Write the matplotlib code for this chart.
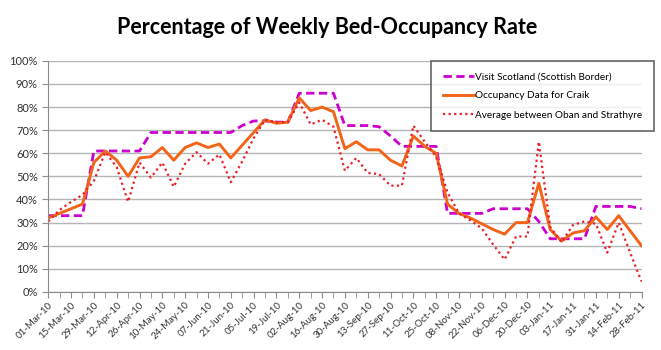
import matplotlib
matplotlib.use("Agg")
import matplotlib.pyplot as plt
from matplotlib.ticker import MultipleLocator, PercentFormatter, FixedLocator

plt.rcParams["font.family"] = ["Lato", "DejaVu Sans"]

# weekly dates, 01-Mar-10 .. 28-Feb-11 (53 weeks), labels every 2 weeks
week_labels = [
    "01-Mar-10", "15-Mar-10", "29-Mar-10", "12-Apr-10", "26-Apr-10", "10-May-10",
    "24-May-10", "07-Jun-10", "21-Jun-10", "05-Jul-10", "19-Jul-10", "02-Aug-10",
    "16-Aug-10", "30-Aug-10", "13-Sep-10", "27-Sep-10", "11-Oct-10", "25-Oct-10",
    "08-Nov-10", "22-Nov-10", "06-Dec-10", "20-Dec-10", "03-Jan-11", "17-Jan-11",
    "31-Jan-11", "14-Feb-11", "28-Feb-11",
]

visit_scotland = [
    33, 33, 33, 33, 61, 61, 61, 61, 61, 69,
    69, 69, 69, 69, 69, 69, 69, 72, 74, 74,
    73.5, 73.5, 86, 86, 86, 86, 72, 72, 72, 71.5,
    67.5, 63, 63, 63, 63, 34, 34, 34, 34, 36,
    36, 36, 36, 30.5, 23, 23, 23, 23, 37, 37,
    37, 37, 36,
]
craik = [
    32, 34, 36, 38, 56, 61, 57, 50, 58, 58.5,
    62.5, 57, 62.5, 64.5, 62.5, 64, 58, 63.5, 69, 74.5,
    73, 73.5, 84, 78.5, 80, 78, 62, 65, 61.5, 61.5,
    57, 54.5, 67.5, 63, 60, 38, 34, 32, 29.5, 27,
    25, 30, 30, 47, 27, 22, 25.5, 26.5, 32.5, 27,
    33, 26.5, 20,
]
oban_strathyre = [
    30.5, 35.5, 39, 42, 48, 60.5, 54, 39, 56, 49.5,
    56, 45.5, 55.5, 60.5, 55.5, 59.5, 47.5, 56.5, 66.5, 74.5,
    73.5, 73.5, 82, 72.5, 74.5, 71.5, 52.5, 58, 51.5, 51,
    46, 46, 72, 65, 58.5, 43, 34, 31, 27.5, 20.5,
    14, 24, 24, 65, 28, 21.5, 29, 30.5, 29.5, 17,
    30, 17, 4.5,
]

x = list(range(len(craik)))

fig = plt.figure(figsize=(6.61, 3.5), dpi=100)
ax = fig.add_axes([0.073, 0.166, 0.8975, 0.66])

ax.plot(x, visit_scotland, color="#CC00CC", linewidth=2, dashes=(3, 1.6),
        label="Visit Scotland (Scottish Border)")
ax.plot(x, craik, color="#F26418", linewidth=2.1, label="Occupancy Data for Craik")
ax.plot(x, oban_strathyre, color="#E8202A", linewidth=1.6, linestyle=(0, (1, 1.5)),
        label="Average between Oban and Strathyre")

ax.set_xlim(0, len(craik) - 1)
ax.set_ylim(0, 100)
ax.yaxis.set_major_locator(MultipleLocator(10))
ax.yaxis.set_major_formatter(PercentFormatter(decimals=0))
ax.grid(axis="y", color="#B5B5B5", linewidth=1)
ax.set_axisbelow(True)

ax.xaxis.set_major_locator(FixedLocator(x[::2]))
ax.xaxis.set_minor_locator(FixedLocator(x))
ax.set_xticklabels(week_labels, rotation=45, ha="right", rotation_mode="anchor")

for side in ("top", "right"):
    ax.spines[side].set_visible(False)
for side in ("left", "bottom"):
    ax.spines[side].set_color("#8C8C8C")
ax.tick_params(axis="both", which="both", color="#8C8C8C", direction="out",
               labelcolor="#333333")
ax.tick_params(axis="y", length=4, labelsize=8)
ax.tick_params(axis="x", which="both", length=4, pad=2, labelsize=7)

leg = fig.legend(loc="upper left", bbox_to_anchor=(431 / 661, 1 - 61 / 350),
                 frameon=True, fancybox=False, fontsize=7.2, handlelength=3.1,
                 handletextpad=0.15, borderpad=1.15, labelspacing=1.0,
                 borderaxespad=0)
leg.get_frame().set_edgecolor("#404040")
leg.get_frame().set_linewidth(1.2)

fig.text(0.4955, 0.92, "Percentage of Weekly Bed-Occupancy Rate",
         ha="center", va="center", fontsize=15.5, fontweight="bold", color="black")

fig.savefig("out.png", dpi=100)
